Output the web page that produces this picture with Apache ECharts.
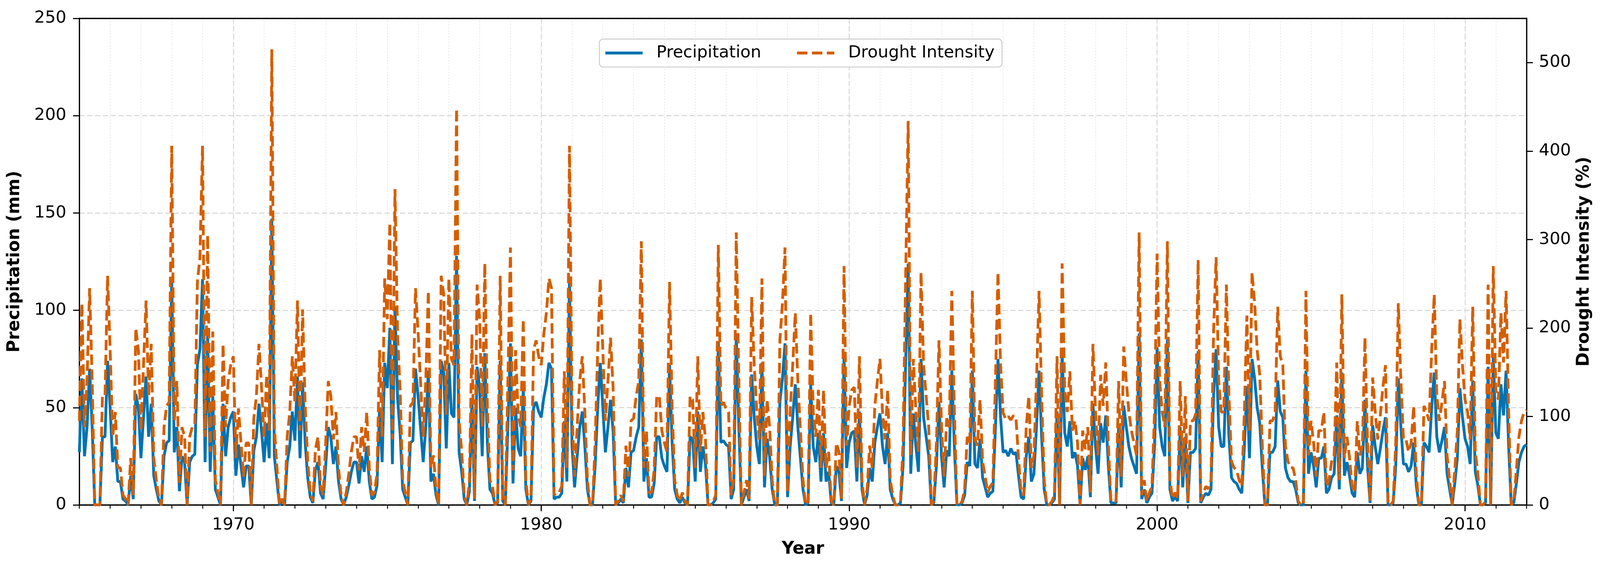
<!DOCTYPE html>
<html>
<head>
<meta charset="utf-8">
<script src="https://cdn.jsdelivr.net/npm/echarts@6.0.0/dist/echarts.min.js"></script>
<style>
html, body { margin: 0; padding: 0; background: #fff; overflow: hidden; }
#chart { width: 100vw; height: 100vh; }
</style>
</head>
<body>
<div id="chart"></div>
<script>
// monthly series, first value = Jan 1965
const startYear = 1965

const precipitation = [
  27, 65, 25, 40, 70, 40, 0, 0, 0, 35, 35, 74,
  50, 22, 30, 12, 12, 3, 2, 0, 15, 3, 57, 50,
  24, 45, 66, 35, 52, 15, 8, 2, 0, 25, 32, 33,
  116, 27, 40, 7, 25, 22, 0, 22, 25, 26, 72, 80,
  116, 22, 87, 17, 56, 8, 4, 0, 52, 25, 40, 45,
  48, 15, 31, 20, 9, 20, 20, 0, 28, 35, 52, 38,
  22, 42, 24, 147, 25, 12, 0, 2, 0, 22, 30, 48,
  33, 66, 24, 63, 32, 14, 4, 1, 18, 22, 6, 3,
  20, 40, 35, 21, 30, 12, 3, 0, 4, 10, 17, 22,
  22, 11, 25, 17, 30, 12, 3, 4, 10, 50, 22, 73,
  60, 91, 21, 102, 55, 37, 8, 4, 0, 32, 33, 70,
  56, 39, 22, 40, 69, 12, 16, 5, 0, 74, 68, 29,
  73, 47, 45, 128, 27, 17, 3, 0, 7, 55, 2, 71,
  60, 25, 78, 32, 8, 6, 0, 1, 74, 2, 0, 40,
  83, 11, 50, 29, 25, 60, 8, 0, 2, 50, 53, 48,
  45, 55, 62, 73, 70, 3, 4, 4, 6, 43, 12, 116,
  30, 9, 25, 40, 48, 30, 8, 0, 0, 20, 50, 73,
  50, 27, 40, 54, 38, 0, 1, 3, 1, 19, 9, 27,
  28, 35, 40, 85, 12, 24, 4, 4, 11, 35, 35, 24,
  20, 17, 72, 32, 8, 3, 1, 4, 1, 0, 35, 34,
  12, 48, 17, 30, 21, 0, 0, 1, 3, 84, 32, 33,
  31, 30, 3, 8, 88, 40, 0, 4, 8, 2, 67, 45,
  30, 21, 73, 9, 34, 25, 8, 0, 0, 53, 65, 83,
  4, 30, 45, 62, 40, 24, 8, 0, 1, 62, 30, 22,
  37, 12, 37, 12, 17, 1, 0, 20, 17, 2, 77, 19,
  32, 37, 38, 12, 48, 8, 0, 5, 19, 12, 32, 40,
  47, 30, 21, 37, 8, 3, 0, 0, 1, 20, 73, 124,
  16, 47, 30, 17, 75, 45, 35, 25, 0, 1, 20, 53,
  25, 9, 28, 25, 69, 30, 0, 0, 1, 5, 22, 20,
  69, 21, 19, 34, 14, 9, 4, 6, 7, 40, 75, 45,
  27, 28, 25, 29, 26, 27, 15, 4, 3, 25, 35, 12,
  16, 40, 69, 35, 8, 0, 0, 1, 3, 48, 0, 78,
  37, 30, 43, 24, 27, 20, 0, 24, 18, 25, 4, 52,
  30, 16, 42, 32, 46, 20, 1, 1, 1, 40, 9, 51,
  40, 30, 24, 20, 16, 88, 3, 8, 1, 4, 6, 30,
  81, 40, 30, 25, 85, 8, 2, 4, 2, 40, 9, 35,
  1, 27, 27, 29, 79, 1, 4, 6, 5, 8, 56, 80,
  40, 30, 30, 71, 35, 14, 12, 11, 8, 6, 30, 61,
  24, 75, 65, 50, 42, 19, 0, 0, 27, 27, 30, 64,
  48, 45, 19, 14, 12, 12, 8, 1, 0, 0, 69, 16,
  27, 20, 9, 24, 24, 30, 6, 8, 14, 16, 46, 8,
  68, 15, 22, 15, 6, 4, 27, 16, 19, 54, 20, 1,
  41, 30, 21, 29, 38, 45, 0, 0, 1, 20, 65, 40,
  21, 21, 17, 20, 32, 10, 0, 0, 32, 30, 27, 50,
  68, 35, 27, 33, 40, 16, 8, 0, 11, 24, 60, 45,
  34, 30, 21, 64, 17, 10, 0, 0, 1, 71, 0, 77,
  37, 34, 62, 46, 69, 30, 0, 1, 11, 22, 27, 30,
  31
]

const droughtIntensity = [
  95, 228, 88, 140, 245, 140, 0, 0, 0, 123, 123, 259,
  175, 77, 105, 42, 42, 11, 7, 0, 53, 11, 200, 175,
  84, 158, 231, 123, 182, 53, 28, 7, 0, 88, 112, 116,
  406, 95, 140, 25, 88, 77, 0, 77, 88, 91, 252, 280,
  406, 77, 305, 60, 196, 28, 14, 0, 182, 88, 140, 158,
  168, 53, 109, 70, 32, 70, 70, 0, 98, 123, 182, 133,
  77, 147, 84, 515, 88, 42, 0, 7, 0, 77, 105, 168,
  116, 231, 84, 221, 112, 49, 14, 4, 63, 77, 21, 11,
  70, 140, 123, 74, 105, 42, 11, 0, 14, 35, 60, 77,
  77, 39, 88, 60, 105, 42, 11, 14, 35, 175, 77, 256,
  210, 319, 74, 357, 193, 130, 28, 14, 0, 112, 116, 245,
  196, 137, 77, 140, 242, 42, 56, 18, 0, 259, 238, 102,
  256, 165, 158, 448, 95, 60, 11, 0, 25, 193, 7, 249,
  210, 88, 273, 112, 28, 21, 0, 4, 259, 7, 0, 140,
  291, 39, 175, 102, 88, 210, 28, 0, 7, 175, 186, 168,
  158, 193, 217, 256, 245, 11, 14, 14, 21, 151, 42, 406,
  105, 32, 88, 140, 168, 105, 28, 0, 0, 70, 175, 256,
  175, 95, 140, 189, 133, 0, 4, 11, 4, 67, 32, 95,
  98, 123, 140, 298, 42, 84, 14, 14, 39, 123, 123, 84,
  70, 60, 252, 112, 28, 11, 4, 14, 4, 0, 123, 119,
  42, 168, 60, 105, 74, 0, 0, 4, 11, 294, 112, 116,
  109, 105, 11, 28, 308, 140, 0, 14, 28, 7, 235, 158,
  105, 74, 256, 32, 119, 88, 28, 0, 0, 186, 228, 291,
  14, 105, 158, 217, 140, 84, 28, 0, 4, 217, 105, 77,
  130, 42, 130, 42, 60, 4, 0, 70, 60, 7, 270, 67,
  112, 130, 133, 42, 168, 28, 0, 18, 67, 42, 112, 140,
  165, 105, 74, 130, 28, 11, 0, 0, 4, 70, 256, 434,
  56, 165, 105, 60, 263, 158, 123, 88, 0, 4, 70, 186,
  88, 32, 98, 88, 242, 105, 0, 0, 4, 18, 77, 70,
  242, 74, 67, 119, 49, 32, 14, 21, 25, 140, 263, 158,
  104, 97, 100, 96, 101, 98, 53, 14, 11, 88, 123, 42,
  56, 140, 242, 123, 28, 0, 0, 4, 11, 168, 0, 273,
  130, 105, 151, 84, 95, 70, 0, 84, 63, 88, 14, 182,
  105, 56, 147, 112, 161, 70, 4, 4, 4, 140, 32, 179,
  140, 105, 84, 70, 56, 308, 11, 28, 4, 14, 21, 105,
  284, 140, 105, 88, 298, 28, 7, 14, 7, 140, 32, 123,
  4, 95, 95, 102, 277, 4, 14, 21, 18, 28, 196, 280,
  140, 105, 105, 249, 123, 49, 42, 39, 28, 21, 105, 214,
  84, 263, 228, 175, 147, 67, 0, 0, 95, 95, 105, 224,
  168, 158, 67, 49, 42, 42, 28, 4, 0, 0, 242, 56,
  95, 70, 32, 84, 84, 105, 21, 28, 49, 56, 161, 28,
  238, 53, 77, 53, 21, 14, 95, 56, 67, 189, 70, 4,
  144, 105, 74, 102, 133, 158, 0, 0, 4, 70, 228, 140,
  74, 74, 60, 70, 112, 35, 0, 0, 112, 105, 95, 175,
  238, 123, 95, 116, 140, 56, 28, 0, 39, 84, 210, 158,
  119, 105, 74, 224, 60, 35, 0, 0, 4, 249, 0, 270,
  130, 119, 217, 161, 242, 105, 0, 4, 39, 77, 95, 105,
  107
]

const yearTicks = [1970, 1980, 1990, 2000, 2010]
const droughtTicks = [0, 100, 200, 300, 400, 500]

const font = 'DejaVu Sans'
const monthX = i => startYear + i / 12

// sizes below are in picture pixels (4295 x 1452), scaled to the real viewport
const s = window.innerWidth / 4295
const sy = window.innerHeight / 1452
const px = v => v * s
const py = v => v * sy

let myChart = echarts.init(document.getElementById('chart'), null, { renderer: 'canvas' })

let option = {
    animation: false,
    backgroundColor: '#ffffff',
    legend: {
        top: py(100),
        left: px(1609),
        data: [{
                name: 'Precipitation',
                icon: 'path://M0,0h100v8h-100z'
            },
            {
                name: 'Drought Intensity',
                icon: 'path://M0,0h28v8h-28zM40,0h28v8h-28zM80,0h20v8h-20z'
            }
        ],
        itemWidth: px(100),
        itemHeight: px(8),
        itemGap: px(96),
        padding: [px(15), px(20), px(15), px(16)],
        backgroundColor: '#ffffff',
        borderColor: '#cccccc',
        borderWidth: px(2.5),
        borderRadius: px(10),
        textStyle: { fontFamily: font, fontSize: px(45), color: '#000', padding: [0, 0, 0, px(32)] }
    },
    grid: {
        left: px(213),
        right: px(197),
        top: py(47),
        bottom: py(159),
        show: true,
        borderColor: '#000',
        borderWidth: px(3)
    },
    xAxis: [{
            // yearly minor ticks + dotted grid
            type: 'value',
            min: startYear,
            max: 2012,
            interval: 1,
            axisLine: { show: true, lineStyle: { color: '#000', width: px(3) } },
            axisTick: { show: true, length: px(10), lineStyle: { color: '#000', width: px(2.5) } },
            axisLabel: { show: false },
            splitLine: { show: true, lineStyle: { color: '#e3e3e3', width: px(2), type: [px(3), px(5)] } }
        },
        {
            // decade ticks, labels and dashed grid
            type: 'value',
            min: startYear,
            max: 2012,
            splitNumber: 5,
            position: 'bottom',
            name: 'Year',
            nameLocation: 'middle',
            nameGap: py(92),
            nameTextStyle: { fontFamily: font, fontSize: px(46), fontWeight: 'bold', color: '#000' },
            axisLine: { show: false },
            axisTick: { show: true, length: px(17), customValues: yearTicks, lineStyle: { color: '#000', width: px(3) } },
            axisLabel: {
                show: true,
                customValues: yearTicks,
                formatter: v => String(v),
                margin: py(30),
                fontFamily: font,
                fontSize: px(45),
                color: '#000'
            },
            splitLine: { show: true, lineStyle: { color: '#d4d4d4', width: px(2.5), type: [px(14), px(7)] } }
        },
        {
            // top frame line
            type: 'value',
            min: startYear,
            max: 2012,
            position: 'top',
            axisLine: { show: true, lineStyle: { color: '#000', width: px(3) } },
            axisTick: { show: false },
            axisLabel: { show: false },
            splitLine: { show: false }
        }
    ],
    yAxis: [{
            type: 'value',
            min: 0,
            max: 250,
            interval: 50,
            name: 'Precipitation (mm)',
            nameLocation: 'middle',
            nameRotate: 90,
            nameGap: px(150),
            nameTextStyle: { fontFamily: font, fontSize: px(46), fontWeight: 'bold', color: '#000' },
            axisLine: { show: true, lineStyle: { color: '#000', width: px(3) } },
            axisTick: { show: true, length: px(17), lineStyle: { color: '#000', width: px(3) } },
            axisLabel: { margin: px(35), fontFamily: font, fontSize: px(45), color: '#000' },
            splitLine: { show: true, lineStyle: { color: '#d4d4d4', width: px(2.5), type: [px(14), px(7)] } }
        },
        {
            type: 'value',
            min: 0,
            max: 550,
            position: 'right',
            name: 'Drought Intensity (%)',
            nameLocation: 'middle',
            nameRotate: 90,
            nameGap: px(132),
            nameTextStyle: { fontFamily: font, fontSize: px(46), fontWeight: 'bold', color: '#000' },
            axisLine: { show: true, onZero: false, lineStyle: { color: '#000', width: px(3) } },
            axisTick: { show: true, length: px(17), customValues: droughtTicks, lineStyle: { color: '#000', width: px(3) } },
            axisLabel: { show: true, customValues: droughtTicks, margin: px(33), fontFamily: font, fontSize: px(45), color: '#000' },
            splitLine: { show: false }
        }
    ],
    series: [{
            name: 'Precipitation',
            type: 'line',
            xAxisIndex: 0,
            yAxisIndex: 0,
            symbol: 'none',
            color: '#0072B2',
            lineStyle: { width: px(7.5), color: '#0072B2' },
            z: 3,
            data: precipitation.map((v, i) => [monthX(i), v])
        },
        {
            name: 'Drought Intensity',
            type: 'line',
            xAxisIndex: 0,
            yAxisIndex: 1,
            symbol: 'none',
            color: '#D55E00',
            lineStyle: { width: px(7.5), color: '#D55E00', type: [px(28), px(12)] },
            z: 4,
            data: droughtIntensity.map((v, i) => [monthX(i), v])
        }
    ]
}

myChart.setOption(option)
</script>
</body>
</html>
